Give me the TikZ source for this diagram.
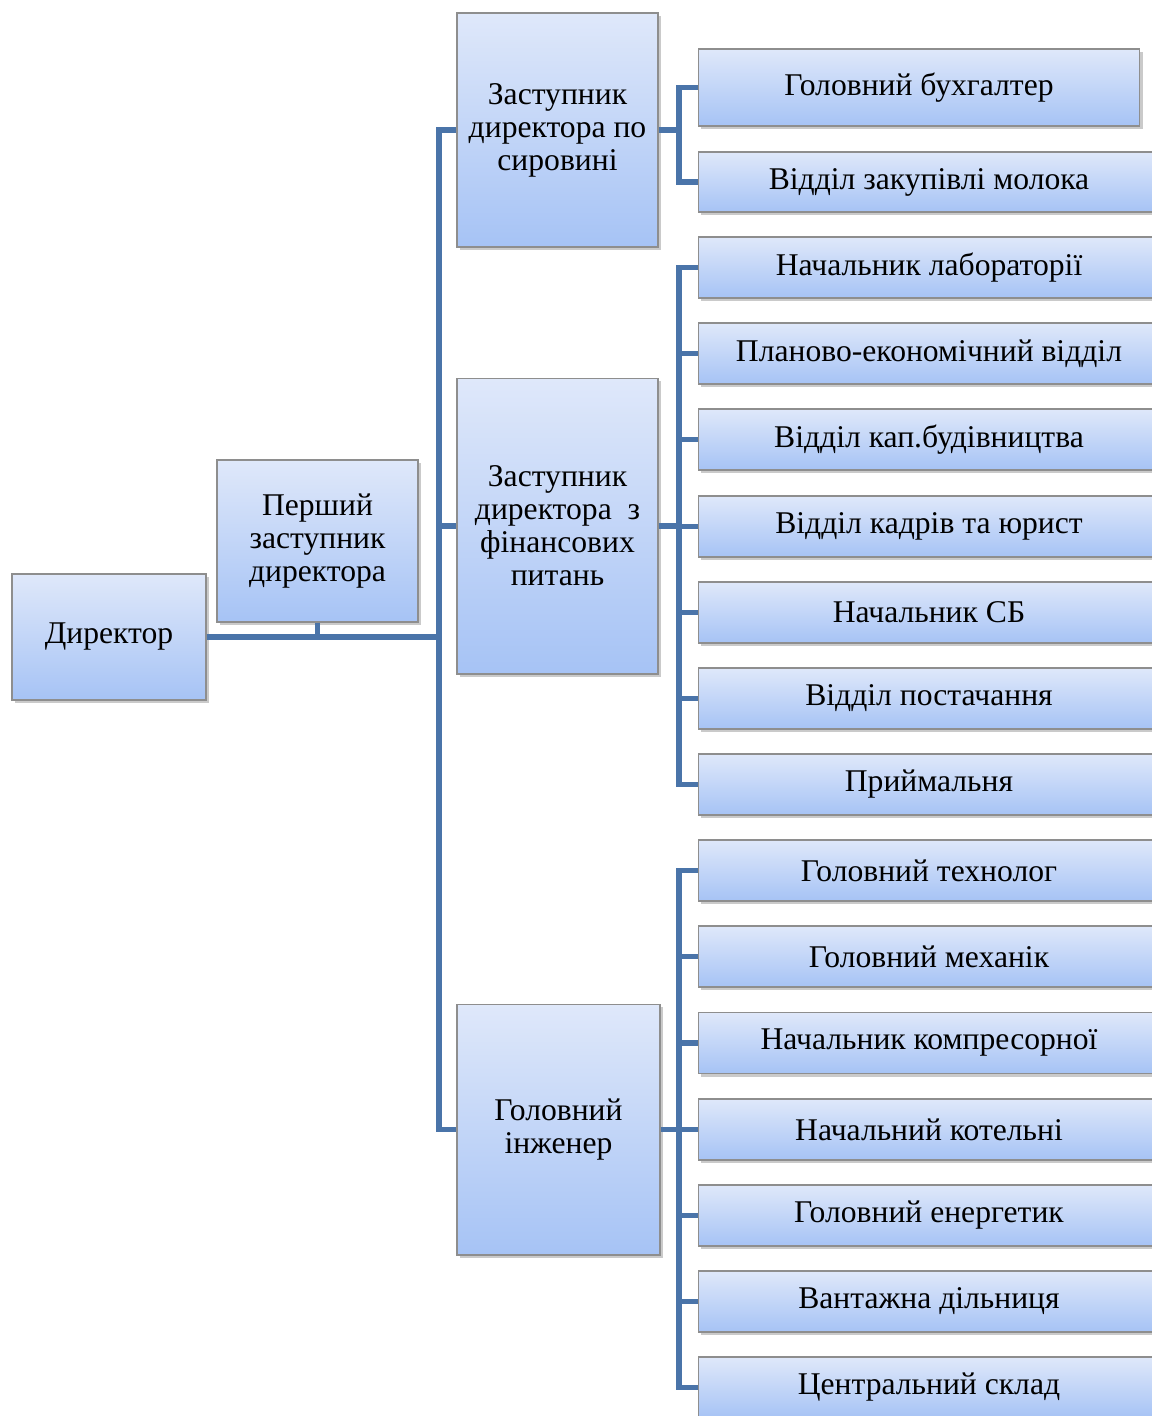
\documentclass[tikz,border=0pt]{standalone}
\usepackage{fontspec}
\setmainfont{Liberation Serif}
\usetikzlibrary{shadows}
\definecolor{boxtop}{HTML}{DFE8FA}
\definecolor{boxbot}{HTML}{A6C3F5}
\definecolor{boxline}{HTML}{8E8E8E}
\definecolor{conn}{HTML}{4A74A9}
\tikzset{
  orgbox/.style={draw=boxline, line width=0.6pt, top color=boxtop, bottom color=boxbot,
    inner sep=0pt, align=center, font=\fontsize{18pt}{18.8pt}\selectfont,
    drop shadow={shadow xshift=1.5pt, shadow yshift=-1.8pt, opacity=0.35, fill=black!60}},
  link/.style={draw=conn, line width=2.9pt, line join=miter}
}
\begin{document}
\begin{tikzpicture}[x=0.02cm, y=-0.02cm]
\useasboundingbox (0,0) rectangle (1152,1416);
\clip (0,0) rectangle (1152,1416);
% main boxes
\node[orgbox, minimum width=3.88cm, minimum height=2.52cm] (dir) at (109,637) {Директор};
\node[orgbox, minimum width=4.02cm, minimum height=3.24cm] (p1) at (317.5,541) {Перший\\заступник\\директора};
\node[orgbox, minimum width=4.02cm, minimum height=4.68cm] (z1) at (557.5,130) {Заступник\\директора по\\сировині};
\node[orgbox, minimum width=4.02cm, minimum height=5.92cm] (z2) at (557.5,526) {Заступник\\директора \ з\\фінансових\\питань};
\node[orgbox, minimum width=4.06cm, minimum height=5.02cm] (z3) at (558.5,1129.5) {Головний\\інженер};
% leaves
\node[orgbox, minimum width=8.84cm, minimum height=1.54cm] (l1) at (919,87.5) {Головний бухгалтер};
\node[orgbox, minimum width=9.24cm, minimum height=1.2cm] (l2) at (929,182) {Відділ закупівлі молока};
\node[orgbox, minimum width=9.24cm, minimum height=1.22cm] (l3) at (929,267.5) {Начальник лабораторії};
\node[orgbox, minimum width=9.24cm, minimum height=1.22cm] (l4) at (929,353.5) {Планово-економічний відділ};
\node[orgbox, minimum width=9.24cm, minimum height=1.22cm] (l5) at (929,439.5) {Відділ кап.будівництва};
\node[orgbox, minimum width=9.24cm, minimum height=1.22cm] (l6) at (929,526.5) {Відділ кадрів та юрист};
\node[orgbox, minimum width=9.24cm, minimum height=1.22cm] (l7) at (929,612.5) {Начальник СБ};
\node[orgbox, minimum width=9.24cm, minimum height=1.22cm] (l8) at (929,698.5) {Відділ постачання};
\node[orgbox, minimum width=9.24cm, minimum height=1.22cm] (l9) at (929,784.5) {Приймальня};
\node[orgbox, minimum width=9.24cm, minimum height=1.22cm] (m1) at (929,870.5) {Головний технолог};
\node[orgbox, minimum width=9.24cm, minimum height=1.22cm] (m2) at (929,956.5) {Головний механік};
\node[orgbox, minimum width=9.24cm, minimum height=1.22cm] (m3) at (929,1043) {Начальник компресорної};
\node[orgbox, minimum width=9.24cm, minimum height=1.22cm] (m4) at (929,1129.5) {Начальний котельні};
\node[orgbox, minimum width=9.24cm, minimum height=1.22cm] (m5) at (929,1215.5) {Головний енергетик};
\node[orgbox, minimum width=9.24cm, minimum height=1.22cm] (m6) at (929,1301.5) {Вантажна дільниця};
\node[orgbox, minimum width=9.24cm, minimum height=1.22cm] (m7) at (929,1387.5) {Центральний склад};
% bus coordinates
\coordinate (t) at (439,637);
\coordinate (b1) at (679,130);
\coordinate (b2) at (679,526);
\coordinate (b3) at (679,1129.5);
% connectors
\draw[link] (dir.east) -- (t);
\draw[link] (p1.south) -- (p1.south |- t);
\draw[link] (z1.west) -| (t) |- (z3.west);
\draw[link] (z2.west) -- (z2.west -| t);
\draw[link] (z1.east) -- (b1);
\draw[link] (l1.west) -| (b1) |- (l2.west);
\draw[link] (z2.east) -- (b2);
\draw[link] (l3.west) -| (b2) |- (l9.west);
\foreach \n in {l4,l5,l6,l7,l8} \draw[link] (\n.west) -- (\n.west -| b2);
\draw[link] (z3.east) -- (b3);
\draw[link] (m1.west) -| (b3) |- (m7.west);
\foreach \n in {m2,m3,m4,m5,m6} \draw[link] (\n.west) -- (\n.west -| b3);
\end{tikzpicture}
\end{document}
